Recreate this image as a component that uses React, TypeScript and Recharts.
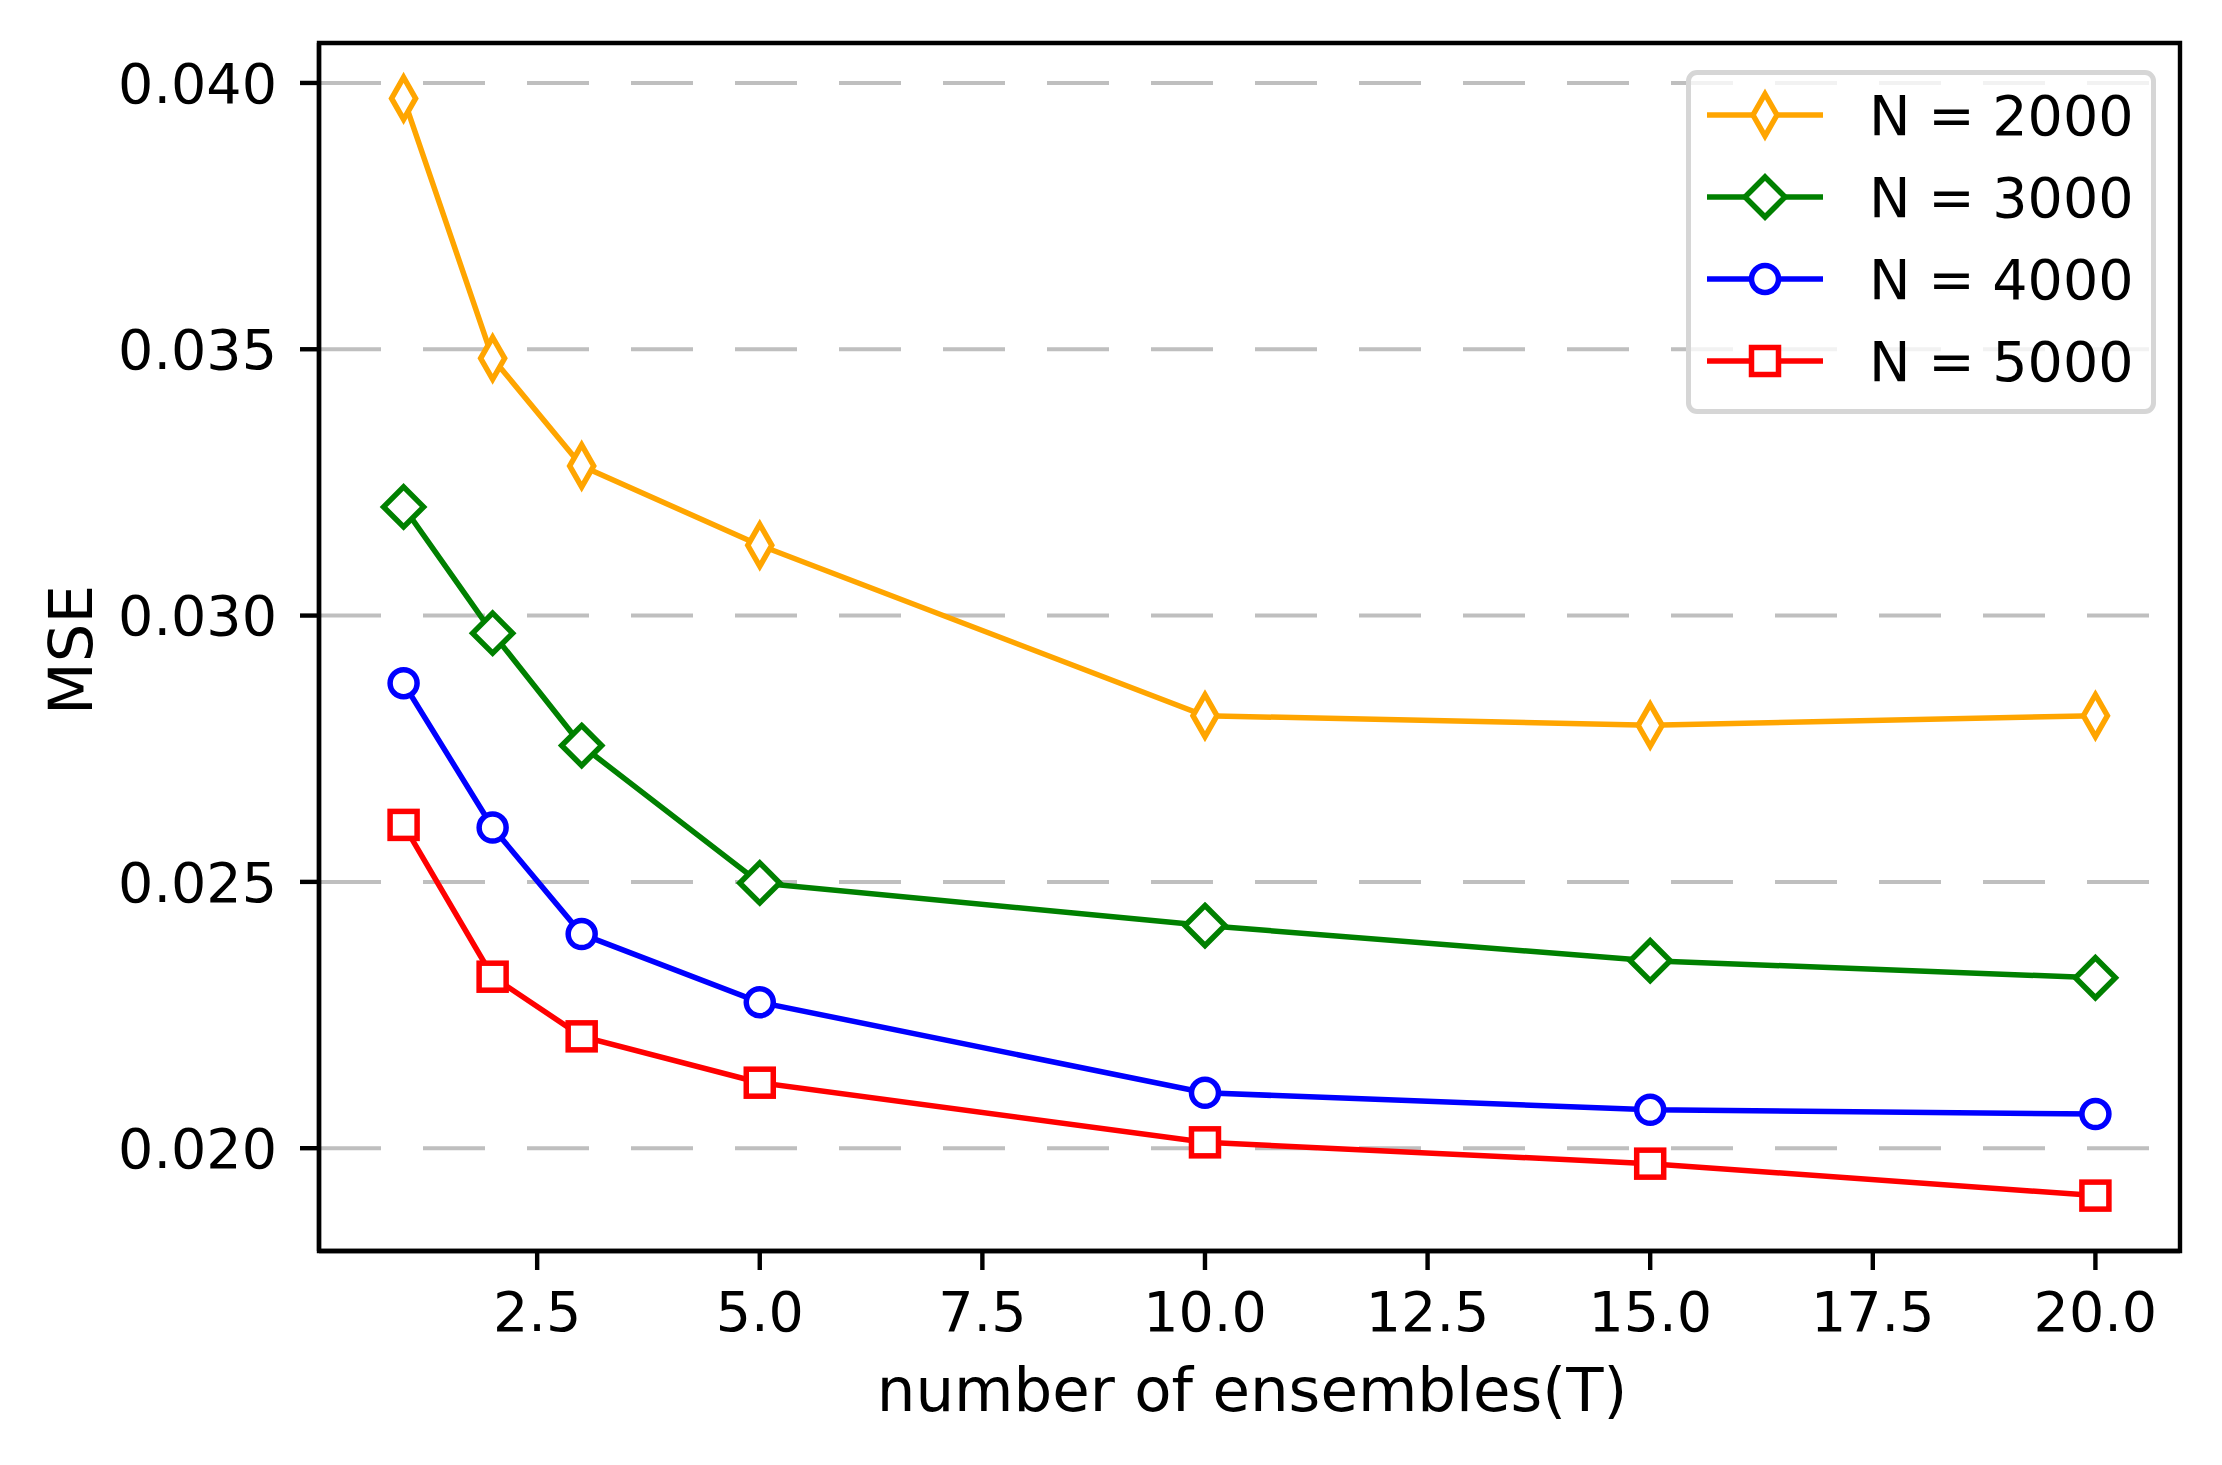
import React from 'react';
import { LineChart, Line, XAxis, YAxis, CartesianGrid, Legend, ReferenceArea } from 'recharts';

// number of ensembles (T)
const ensembles = [1, 2, 3, 5, 10, 15, 20];

// MSE for each sample size
const mse2000 = [0.03971, 0.03483, 0.03281, 0.03132, 0.02812, 0.02794, 0.02812];
const mse3000 = [0.03204, 0.02967, 0.02756, 0.02498, 0.02418, 0.02352, 0.0232];
const mse4000 = [0.02873, 0.02602, 0.02402, 0.02274, 0.02104, 0.02072, 0.02064];
const mse5000 = [0.02607, 0.02322, 0.0221, 0.02123, 0.02011, 0.01971, 0.01911];

const xTicks = [2.5, 5, 7.5, 10, 12.5, 15, 17.5, 20];
const yTicks = [0.02, 0.025, 0.03, 0.035, 0.04];

const X_DOMAIN: [number, number] = [0.05, 20.95];
const Y_DOMAIN: [number, number] = [0.01807, 0.04075];

const FONT = 'DejaVu Sans';
const FS = 55.5; // tick labels
const LFS = 61; // axis labels

type Shape = 'thinDiamond' | 'diamond' | 'circle' | 'square';

const series: { key: string; name: string; color: string; shape: Shape; values: number[] }[] = [
  { key: 'n2000', name: 'N = 2000', color: '#ffa500', shape: 'thinDiamond', values: mse2000 },
  { key: 'n3000', name: 'N = 3000', color: '#008000', shape: 'diamond', values: mse3000 },
  { key: 'n4000', name: 'N = 4000', color: '#0000ff', shape: 'circle', values: mse4000 },
  { key: 'n5000', name: 'N = 5000', color: '#ff0000', shape: 'square', values: mse5000 },
];

const rows = ensembles.map((t, i) => {
  const r: Record<string, number> = { t };
  series.forEach((s) => (r[s.key] = s.values[i]));
  return r;
});

function marker(shape: Shape, color: string, cx: number, cy: number, key?: string) {
  const common = { fill: '#ffffff', stroke: color, strokeWidth: 5.5 };
  if (shape === 'circle') return <circle key={key} cx={cx} cy={cy} r={13.5} {...common} />;
  if (shape === 'square')
    return <rect key={key} x={cx - 13.5} y={cy - 13.5} width={27} height={27} {...common} />;
  const hh = shape === 'diamond' ? 20 : 21;
  const hw = shape === 'diamond' ? 20 : 12;
  return (
    <path
      key={key}
      d={`M${cx},${cy - hh}L${cx + hw},${cy}L${cx},${cy + hh}L${cx - hw},${cy}Z`}
      {...common}
      strokeLinejoin="miter"
    />
  );
}

const makeDot = (shape: Shape, color: string) => (props: any) => {
  const { cx, cy, index } = props;
  if (cx == null || cy == null) return <g key={`e${index}`} />;
  return marker(shape, color, cx, cy, `m${index}`);
};

const LegendBox = () => (
  <div
    style={{
      width: 470,
      height: 344,
      boxSizing: 'border-box',
      border: '5px solid #d6d6d6',
      borderRadius: 11,
      background: 'rgba(255,255,255,0.8)',
      position: 'relative',
    }}
  >
    <svg width={470} height={344} style={{ position: 'absolute', left: -5, top: -5 }}>
      {series.map((s, i) => {
        const cy = 45 + i * 82;
        return (
          <g key={s.key}>
            <line x1={21} x2={137} y1={cy} y2={cy} stroke={s.color} strokeWidth={5.5} />
            {marker(s.shape, s.color, 79, cy)}
            <text x={183} y={cy + 20} fontFamily={FONT} fontSize={FS} fill="#000">
              {s.name}
            </text>
          </g>
        );
      })}
    </svg>
  </div>
);

export default function App() {
  return (
    <div style={{ position: 'absolute', left: 0, top: 0, background: '#fff' }}>
      <LineChart width={2222} height={1465} data={rows} margin={{ top: 43, right: 42, left: 0, bottom: 0 }}>
        <CartesianGrid vertical={false} stroke="#bfbfbf" strokeWidth={4} strokeDasharray="62 42" />
        <XAxis
          dataKey="t"
          type="number"
          domain={X_DOMAIN}
          allowDataOverflow
          ticks={xTicks}
          interval={0}
          tickFormatter={(v: number) => v.toFixed(1)}
          height={214}
          tickSize={19}
          tickMargin={22}
          axisLine={{ stroke: '#000', strokeWidth: 4.4 }}
          tickLine={{ stroke: '#000', strokeWidth: 4.4 }}
          tick={{ fill: '#000', fontSize: FS, fontFamily: FONT }}
        />
        <YAxis
          type="number"
          domain={Y_DOMAIN}
          allowDataOverflow
          ticks={yTicks}
          interval={0}
          tickFormatter={(v: number) => v.toFixed(3)}
          width={319}
          tickSize={19}
          tickMargin={23}
          axisLine={{ stroke: '#000', strokeWidth: 4.4 }}
          tickLine={{ stroke: '#000', strokeWidth: 4.4 }}
          tick={{ fill: '#000', fontSize: FS, fontFamily: FONT }}
        />
        <ReferenceArea
          x1={X_DOMAIN[0]}
          x2={X_DOMAIN[1]}
          y1={Y_DOMAIN[0]}
          y2={Y_DOMAIN[1]}
          fill="none"
          stroke="#000"
          strokeWidth={4.4}
          ifOverflow="visible"
        />
        {series.map((s) => (
          <Line
            key={s.key}
            dataKey={s.key}
            name={s.name}
            type="linear"
            stroke={s.color}
            strokeWidth={5.5}
            dot={makeDot(s.shape, s.color)}
            activeDot={false}
            isAnimationActive={false}
          />
        ))}
        <Legend
          layout="vertical"
          align="center"
          verticalAlign="middle"
          content={() => <LegendBox />}
          wrapperStyle={{ left: 1686, top: 70, width: 470, height: 344 }}
        />
      </LineChart>
      <svg width={2222} height={1465} style={{ position: 'absolute', left: 0, top: 0, pointerEvents: 'none' }}>
        <text x={1252} y={1411} textAnchor="middle" fontFamily={FONT} fontSize={LFS} fill="#000">
          number of ensembles(T)
        </text>
        <text transform="translate(92,650) rotate(-90)" textAnchor="middle" fontFamily={FONT} fontSize={LFS} fill="#000">
          MSE
        </text>
      </svg>
    </div>
  );
}
